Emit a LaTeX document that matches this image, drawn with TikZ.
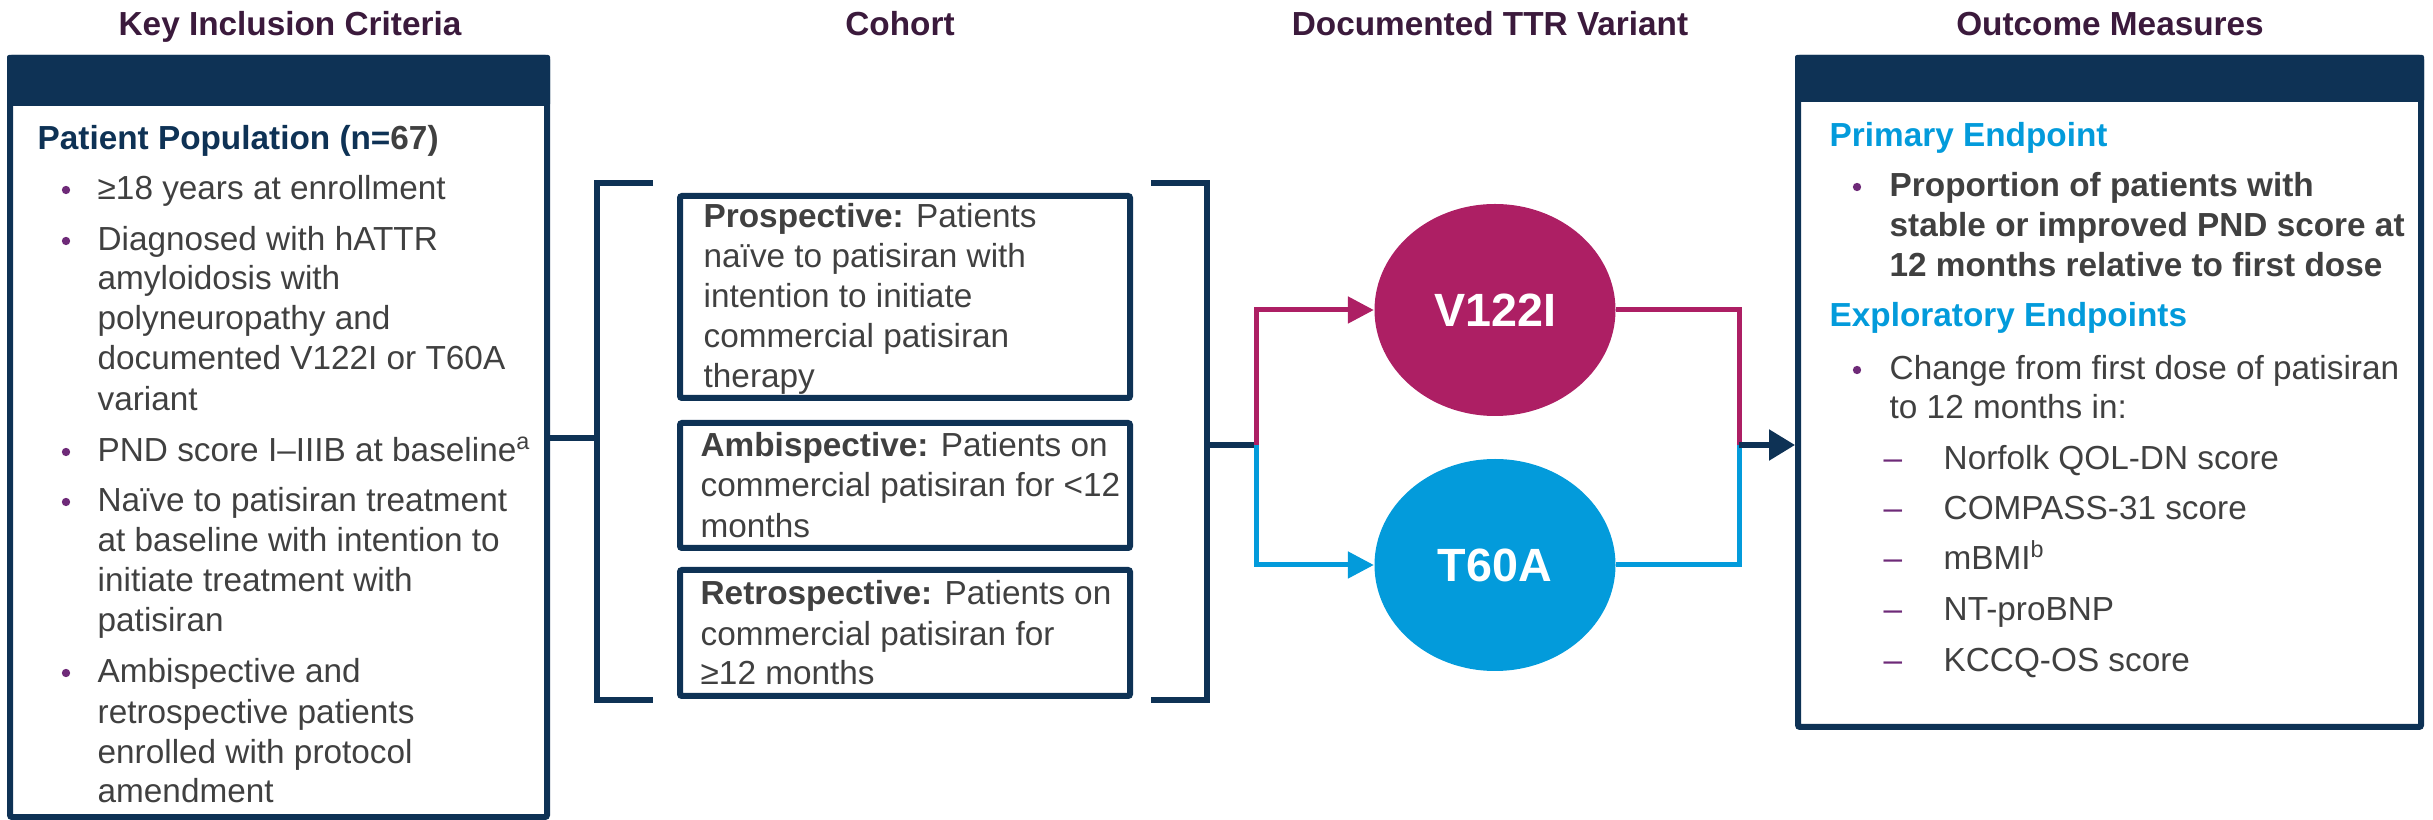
\documentclass[tikz,border=0pt]{standalone}
\usepackage{fontspec}
\setmainfont{Liberation Sans}
\usetikzlibrary{arrows.meta,shapes.geometric,fit,calc}
\definecolor{navy}{HTML}{0E3255}
\definecolor{mag}{HTML}{AD1F64}
\definecolor{cyanb}{HTML}{039BDB}
\definecolor{tgray}{HTML}{404040}
\definecolor{bpurple}{HTML}{6E2A78}
\definecolor{ttl}{HTML}{3B1A3C}
\begin{document}
\begin{tikzpicture}[x=0.3pt,y=-0.3pt,
 txt/.style={anchor=base west, inner sep=0pt, font=\fontsize{10}{12}\selectfont, text=tgray},
 btxt/.style={txt, font=\fontsize{10}{12}\selectfont\bfseries},
 head/.style={txt, font=\fontsize{10}{12}\selectfont\bfseries, text=cyanb},
 ttlst/.style={anchor=base, inner sep=0pt, font=\fontsize{10}{12}\selectfont\bfseries, text=ttl},
 subdash/.style={txt, text=bpurple},
 frame/.style={draw=navy, line width=1.8pt, inner sep=0pt, rounded corners=0.6pt},
 conn/.style={draw=navy, line width=1.6pt},
 magl/.style={draw=mag, line width=1.5pt},
 cyl/.style={draw=cyanb, line width=1.5pt},
 variant/.style={ellipse, inner sep=0pt, minimum width=72.3pt, minimum height=63.6pt, text=white, font=\fontsize{14}{16}\selectfont\bfseries},
 bdot/.style={fill=bpurple},
]
\useasboundingbox (0,0) rectangle (2433,820);

% titles
\node[ttlst] (t1) at (290,36) {Key Inclusion Criteria};
\node[ttlst] (t2) at (900,36) {Cohort};
\node[ttlst] (t3) at (1490,36) {Documented TTR Variant};
\node[ttlst] (t4) at (2110,36) {Outcome Measures};

% left box
\fill[navy, rounded corners=0.6pt] (7,55) rectangle (550,106);
\node[frame, fit={(10,58)(547,817)}] (lb) {};
\node[btxt, text=navy] (pp) at (37,150) {Patient Population (n=\textcolor{tgray}{67)}};
\foreach \yy in {200,251,462,512,683} \fill[bdot] (66,\yy-10) circle[radius=1.25pt];
\node[txt] (l1) at (97,200) {≥18 years at enrollment};
\node[txt] (l2) at (97,251) {Diagnosed with hATTR};
\node[txt] (l3) at (97,290) {amyloidosis with};
\node[txt] (l4) at (97,330) {polyneuropathy and};
\node[txt] (l5) at (97,370) {documented V122I or T60A};
\node[txt] (l6) at (97,411) {variant};
\node[txt] (l7) at (97,462) {PND score I–IIIB at baseline\textsuperscript{a}};
\node[txt] (l8) at (97,512) {Naïve to patisiran treatment};
\node[txt] (l9) at (97,552) {at baseline with intention to};
\node[txt] (l10) at (97,592) {initiate treatment with};
\node[txt] (l11) at (97,632) {patisiran};
\node[txt] (l12) at (97,683) {Ambispective and};
\node[txt] (l13) at (97,723) {retrospective patients};
\node[txt] (l14) at (97,763) {enrolled with protocol};
\node[txt] (l15) at (97,802) {amendment};

% cohort boxes
\node[frame, fit={(680,196)(1130,398)}] (pb) {};
\node[frame, fit={(680,423)(1130,548)}] (ab) {};
\node[frame, fit={(680,570)(1130,696)}] (rb) {};
\node[txt] (p1) at (703,228) {\textbf{Prospective:} Patients};
\node[txt] (p2) at (703,268) {naïve to patisiran with};
\node[txt] (p3) at (703,308) {intention to initiate};
\node[txt] (p4) at (703,348) {commercial patisiran};
\node[txt] (p5) at (703,388) {therapy};
\node[txt] (a1) at (700,457) {\textbf{Ambispective:} Patients on};
\node[txt] (a2) at (700,497) {commercial patisiran for <12};
\node[txt] (a3) at (700,538) {months};
\node[txt] (r1) at (700,605) {\textbf{Retrospective:} Patients on};
\node[txt] (r2) at (700,645) {commercial patisiran for};
\node[txt] (r3) at (700,685) {≥12 months};

% brackets
\draw[conn] (653,183) -- (597,183) -- (597,700) -- (653,700);
\draw[conn] (1151,183) -- (1207,183) -- (1207,700) -- (1151,700);
\coordinate (lbrk) at (597,438);
\coordinate (rbrk) at (1207,445);
\coordinate (jL) at (1256,445);
\coordinate (jR) at (1739,445);

% variants
\node[variant, fill=mag] (v) at (1495,310) {V122I};
\node[variant, fill=cyanb] (t) at (1495,565) {T60A};

% right box
\fill[navy, rounded corners=0.6pt] (1795,55) rectangle (2424,102);
\node[frame, fit={(1798,58)(2421,727)}] (ob) {};
\node[head] (h1) at (1829,147) {Primary Endpoint};
\fill[bdot] (1857,187) circle[radius=1.25pt];
\node[btxt] (o1) at (1889,197) {Proportion of patients with};
\node[btxt] (o2) at (1889,237) {stable or improved PND score at};
\node[btxt] (o3) at (1889,277) {12 months relative to first dose};
\node[head] (h2) at (1829,327) {Exploratory Endpoints};
\fill[bdot] (1857,370) circle[radius=1.25pt];
\node[txt] (o4) at (1889,380) {Change from first dose of patisiran};
\node[txt] (o5) at (1889,419) {to 12 months in:};
\node[subdash] (d1) at (1883,470) {–};
\node[subdash] (d2) at (1883,520) {–};
\node[subdash] (d3) at (1883,570) {–};
\node[subdash] (d4) at (1883,621) {–};
\node[subdash] (d5) at (1883,672) {–};
\node[txt] (s1) at (1943,470) {Norfolk QOL-DN score};
\node[txt] (s2) at (1943,520) {COMPASS-31 score};
\node[txt] (s3) at (1943,570) {mBMI\textsuperscript{b}};
\node[txt] (s4) at (1943,621) {NT-proBNP};
\node[txt] (s5) at (1943,672) {KCCQ-OS score};

% connectors
\draw[conn] (lb.east |- lbrk) -- (lbrk);
\draw[conn] (rbrk) -- (jL);
\draw[magl, -{Triangle[length=7.8pt,width=7.8pt]}] (jL) |- (v.west);
\draw[cyl, -{Triangle[length=7.8pt,width=7.8pt]}] (jL) |- (t.west);
\draw[magl] (v.east) -| (jR);
\draw[cyl] (t.east) -| (jR);
\draw[conn, -{Triangle[length=7.8pt,width=9pt]}] (jR) -- (jR -| ob.west);
\end{tikzpicture}
\end{document}
